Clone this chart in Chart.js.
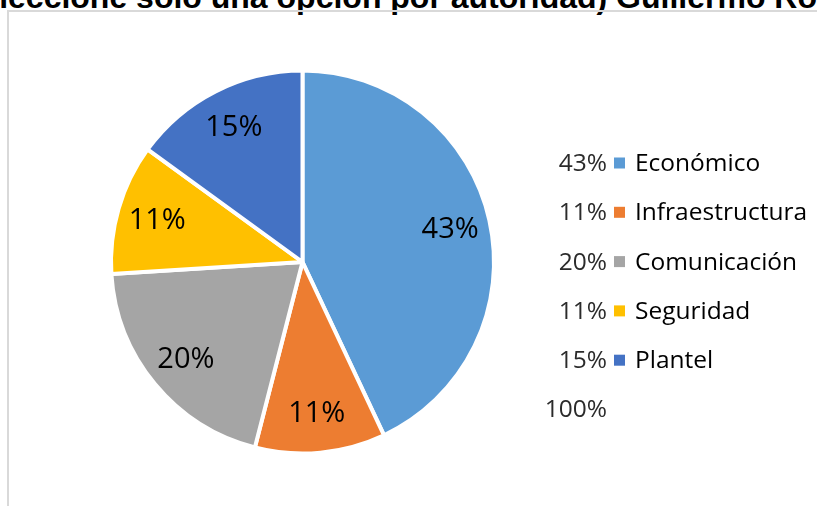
<!DOCTYPE html>
<html lang="es">
<head>
<meta charset="utf-8">
<title>Autoridad – distribución por área</title>
<script src="https://cdn.jsdelivr.net/npm/chart.js@4.4.1/dist/chart.umd.min.js"></script>
<style>
  html, body { margin: 0; padding: 0; background: #ffffff; overflow: hidden; }
  body { width: 817px; height: 506px; position: relative; }
  #heading {
    position: absolute; left: -40px; top: -19px;
    font: bold 32px "Liberation Sans", Arial, sans-serif;
    line-height: 32px; white-space: nowrap; color: #000;
  }
  #frame {
    position: absolute; left: 7px; top: 10px; width: 900px; height: 600px;
    border: 2px solid #d9d9d9; box-sizing: border-box;
  }
  #chart { position: absolute; left: 0; top: 0; }
</style>
</head>
<body>
<div id="heading">Seleccione solo una opción por autoridad) Guillermo Ro</div>
<div id="frame"></div>
<canvas id="chart" width="817" height="506"></canvas>
<script>
// Categories and their shares (%)
const categories = ['Económico', 'Infraestructura', 'Comunicación', 'Seguridad', 'Plantel'];
const shares = [43, 11, 20, 11, 15];
const sliceColors = ['#5B9BD5', '#ED7D31', '#A5A5A5', '#FFC000', '#4472C4'];

const pct = v => v + '%';
const total = shares.reduce((a, b) => a + b, 0);

// Percentage labels inside each wedge
const sliceLabels = {
  id: 'sliceLabels',
  afterDatasetsDraw(chart) {
    const ctx = chart.ctx;
    const arcs = chart.getDatasetMeta(0).data;
    ctx.save();
    ctx.font = '29px "Open Sans", sans-serif';
    ctx.fillStyle = '#000000';
    ctx.textAlign = 'center';
    ctx.textBaseline = 'middle';
    arcs.forEach((arc, i) => {
      const p = arc.getProps(['x', 'y', 'startAngle', 'endAngle', 'outerRadius'], true);
      const mid = (p.startAngle + p.endAngle) / 2;
      const r = p.outerRadius * 0.79;
      ctx.fillText(pct(shares[i]), p.x + Math.cos(mid) * r, p.y + Math.sin(mid) * r + 1);
    });
    ctx.restore();
  }
};

// Legend on the right: share, colour key, category; total underneath
const sideLegend = {
  id: 'sideLegend',
  afterDraw(chart) {
    const ctx = chart.ctx;
    const numRight = 607, keyX = 614, keySize = 11, textX = 635;
    const firstY = 163, step = 49.3;
    const drawShare = (text, y) => {
      ctx.save();
      ctx.filter = 'blur(0.35px)';
      ctx.font = '24.5px "Open Sans", sans-serif';
      ctx.fillStyle = '#2b2b2b';
      ctx.textAlign = 'right';
      ctx.fillText(text, numRight, y + 1);
      ctx.restore();
    };
    ctx.save();
    ctx.textBaseline = 'middle';
    categories.forEach((name, i) => {
      const y = firstY + i * step;
      drawShare(pct(shares[i]), y);
      ctx.fillStyle = sliceColors[i];
      ctx.fillRect(keyX, y - keySize / 2, keySize, keySize);
      ctx.font = '24.5px "Open Sans", sans-serif';
      ctx.fillStyle = '#000000';
      ctx.textAlign = 'left';
      ctx.fillText(name, textX, y + 1);
    });
    drawShare(pct(total), firstY + categories.length * step);
    ctx.restore();
  }
};

new Chart(document.getElementById('chart'), {
  type: 'pie',
  data: {
    labels: categories,
    datasets: [{
      data: shares,
      backgroundColor: sliceColors,
      borderColor: '#ffffff',
      borderWidth: 4
    }]
  },
  options: {
    responsive: false,
    devicePixelRatio: 1,
    animation: false,
    radius: 191.5,
    layout: { padding: { left: 102.5, top: 62, right: 314.5, bottom: 44 } },
    plugins: {
      legend: { display: false },
      title: { display: false },
      tooltip: { enabled: false }
    }
  },
  plugins: [sliceLabels, sideLegend]
});
</script>
</body>
</html>
